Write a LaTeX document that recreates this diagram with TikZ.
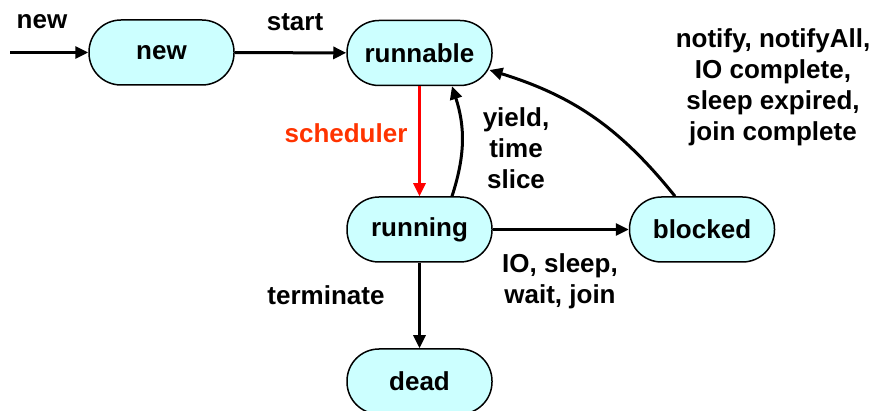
\documentclass[tikz,border=0pt]{standalone}
\usepackage{fontspec}
\setmainfont{Liberation Sans}
\usetikzlibrary{arrows.meta}
\definecolor{stfill}{RGB}{204,255,255}
\definecolor{schedred}{RGB}{255,51,0}
\tikzset{
  st/.style={draw, line width=1.5pt, fill=stfill, minimum width=145pt, minimum height=65pt,
    rounded corners=32pt, inner sep=0pt, font=\fontsize{26}{31}\selectfont\bfseries},
  lbl/.style={font=\fontsize{26}{31}\selectfont\bfseries, align=center, inner sep=0pt},
  arr/.style={line width=3pt, -{Triangle[length=13pt,width=12pt]}},
}
\begin{document}
\begin{tikzpicture}[x=1pt,y=1pt]
\useasboundingbox (0,0) rectangle (875,-411);
\node[st] (new) at (161.5,-52.5) {new};
\node[st] (runnable) at (419.5,-53) {runnable};
\node[st] (running) at (419.5,-229.5) {running};
\node[st] (blocked) at (702,-229.5) {blocked};
\node[st] (dead) at (419.5,-381.5) {dead};
\coordinate (entry) at (10,-52.5);
\draw[arr] (entry) -- (new);
\draw[arr] (new) -- (runnable);
\draw[arr, red, line width=2.6pt] (runnable.south) -- (running.north);
\draw[arr] ([xshift=32.5pt]running.north) to[bend right=18] ([xshift=32.5pt]runnable.south);
\draw[arr] ([xshift=-27pt]blocked.north) to[bend right=17] ([shift={(70pt,-17pt)}]runnable.center);
\draw[arr] (running) -- (blocked);
\draw[arr] (running) -- (dead);
\node[lbl] (lnew) at (42,-22) {new};
\node[lbl] (lstart) at (295,-22) {start};
\node[lbl, text=schedred] (lsched) at (346,-133) {scheduler};
\node[lbl] (lyield) at (516,-148) {yield,\\time\\slice};
\node[lbl] (lnotify) at (773,-87) {notify, notifyAll,\\IO complete,\\sleep expired,\\join complete};
\node[lbl] (lio) at (560,-281) {IO, sleep,\\wait, join};
\node[lbl] (lterm) at (326,-295) {terminate};
\end{tikzpicture}
\end{document}
